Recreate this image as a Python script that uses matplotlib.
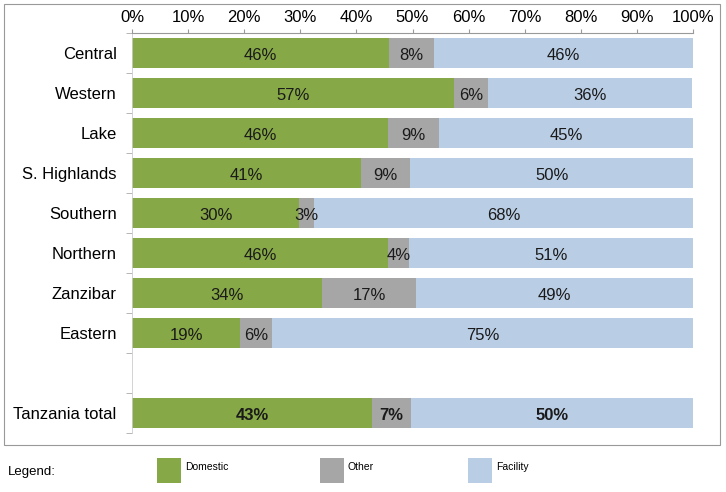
import matplotlib
matplotlib.use("Agg")
import matplotlib.pyplot as plt
from matplotlib.patches import Rectangle
import numpy as np

plt.rcParams['font.family'] = ['Liberation Sans', 'DejaVu Sans']

categories = ["Central", "Western", "Lake", "S. Highlands", "Southern",
              "Northern", "Zanzibar", "Eastern", "", "Tanzania total"]
domestic = [45.8, 57.4, 45.6, 40.8, 29.8, 45.6, 33.9, 19.3, 0, 42.8]
other = [8.0, 6.1, 9.1, 8.8, 2.6, 3.8, 16.7, 5.7, 0, 6.9]
facility = [46.2, 36.4, 45.3, 50.4, 67.6, 50.6, 49.4, 75.0, 0, 50.3]
series_names = ["Domestic", "Other", "Facility"]
colors = ["#86A846", "#A6A6A6", "#B9CDE5"]
xticks = list(range(0, 101, 10))

fig = plt.figure(figsize=(7.26, 4.92), dpi=100)
ax = fig.add_axes([132/726, 1-433/492, (693-132)/726, 400/492])

y = np.arange(len(categories))
left = np.zeros(len(categories))
for vals, col in zip([domestic, other, facility], colors):
    vals = np.array(vals)
    ax.barh(y, vals, left=left, height=0.75, color=col, edgecolor='none')
    for i, v in enumerate(vals):
        if categories[i] == "":
            continue
        bold = categories[i] == "Tanzania total"
        ax.text(left[i] + v/2, y[i] + 0.05, f"{round(v):.0f}%", ha='center', va='center',
                fontsize=12, color='#1a1a1a', fontweight='bold' if bold else 'normal')
    left += vals

ax.set_xlim(0, 100)
ax.set_ylim(len(categories) - 0.5, -0.5)
ax.xaxis.tick_top()
ax.set_xticks(xticks)
ax.set_xticklabels([f"{t}%" for t in xticks], fontsize=12)
ax.tick_params(axis='x', length=3, color='#999999', pad=3)
ax.set_yticks(y)
ax.set_yticklabels(categories, fontsize=12)
ax.tick_params(axis='y', length=0, pad=11)
ax.set_yticks(np.arange(-0.5, len(categories), 1), minor=True)
ax.tick_params(axis='y', which='minor', length=4, color='#aaaaaa')
for s in ['right', 'bottom']:
    ax.spines[s].set_visible(False)
ax.spines['top'].set_color('#999999')
ax.spines['top'].set_linewidth(0.8)
ax.spines['left'].set_color('#cccccc')
ax.spines['left'].set_linewidth(0.6)

# outer border
fig.patches.append(Rectangle((4/726, 1-445/492), 716/726, 441/492, transform=fig.transFigure,
                             fill=False, edgecolor='#999999', linewidth=0.8))

# legend
fig.text(8/726, 1-472/492, "Legend:", fontsize=9.5, va='center')
lx = [157, 320, 468]
for name, col, x in zip(series_names, colors, lx):
    fig.patches.append(Rectangle((x/726, 1-483/492), 24/726, 25/492, transform=fig.transFigure,
                                 facecolor=col, edgecolor='none'))
    fig.text((x+28)/726, 1-467/492, name, fontsize=7.5, va='center')

fig.savefig("out.png", dpi=100)
